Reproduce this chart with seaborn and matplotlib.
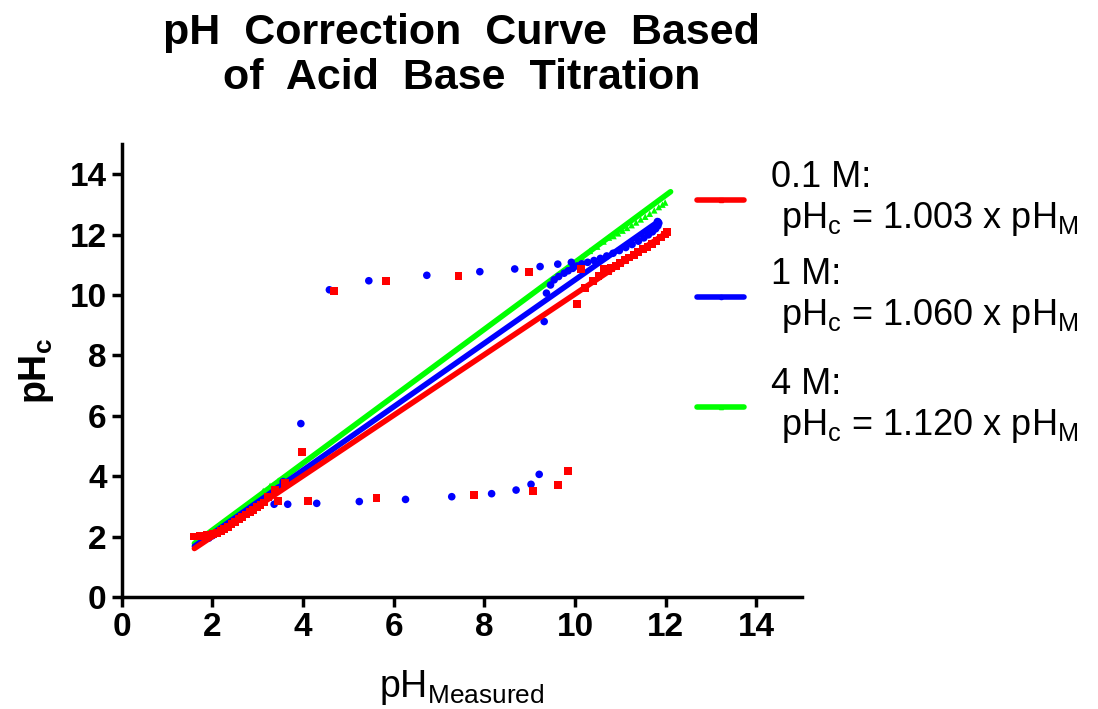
import matplotlib
matplotlib.use("Agg")
import matplotlib.pyplot as plt
import seaborn as sns
import pandas as pd
import numpy as np
from matplotlib.lines import Line2D

sns.set_theme(style="ticks")
plt.rcParams['font.family'] = ['Liberation Sans', 'DejaVu Sans']
plt.rcParams['mathtext.default'] = 'regular'
for k in ['text.color', 'axes.labelcolor', 'xtick.color', 'ytick.color', 'axes.edgecolor']:
    plt.rcParams[k] = 'black'

# ---------------- data ----------------
series_names = ["0.1 M", "1 M", "4 M"]
slopes_label = ["1.003", "1.060", "1.120"]
fit_slopes = [1.003, 1.05, 1.108]
fit_x_range = [(1.60, 12.05), (1.60, 11.85), (1.60, 12.11)]
colors = ["#FF0000", "#0000FF", "#00FF00"]
markers = ["s", "o", "^"]

red_x = [1.58, 1.65, 1.72, 1.80, 1.88, 1.95, 2.02, 2.10, 2.18, 2.26, 2.34, 2.42, 2.50, 2.58,
         2.66, 2.74, 2.82, 2.90, 2.98, 3.06, 3.14, 3.23, 3.38, 3.60,
         3.45, 4.11, 5.62, 7.77, 9.07, 9.62, 9.85, 3.97,
         4.68, 5.82, 7.43, 8.98, 10.13, 10.04,
         10.22, 10.39, 10.52, 10.64, 10.72, 10.80, 10.90, 11.00, 11.10, 11.20, 11.30,
         11.40, 11.50, 11.60, 11.70, 11.80, 11.90, 11.98, 12.04]
red_y = [2.00, 2.00, 2.01, 2.02, 2.04, 2.06, 2.08, 2.13, 2.19, 2.26, 2.33, 2.41, 2.49, 2.57,
         2.65, 2.73, 2.81, 2.89, 2.97, 3.05, 3.13, 3.32, 3.54, 3.78,
         3.18, 3.19, 3.27, 3.39, 3.51, 3.72, 4.18, 4.79,
         10.13, 10.45, 10.63, 10.77, 10.86, 9.70,
         10.22, 10.46, 10.63, 10.86, 10.80, 10.88, 10.97, 11.06, 11.15, 11.24, 11.33,
         11.42, 11.51, 11.60, 11.70, 11.80, 11.90, 12.00, 12.08]

blue_x = [1.92, 2.00, 2.10, 2.20, 2.30, 2.40, 2.50, 2.60, 2.70, 2.80, 2.90, 3.00, 3.10,
          3.20, 3.30, 3.45, 3.56,
          3.36, 3.66, 4.30, 5.24, 6.26, 7.28, 8.16, 8.70, 9.03, 9.21, 3.95,
          4.58, 5.45, 6.73, 7.90, 8.67, 9.23, 9.62, 9.92, 9.32,
          9.37, 9.46, 9.54, 9.64, 9.76, 9.85, 9.95, 10.05, 10.15, 10.28, 10.42, 10.56,
          10.70, 10.84, 10.98, 11.12, 11.26, 11.40, 11.52, 11.62, 11.71, 11.78, 11.83,
          11.85, 11.82]
blue_y = [1.95, 2.03, 2.12, 2.22, 2.32, 2.42, 2.53, 2.63, 2.74, 2.84, 2.95, 3.05, 3.16,
          3.27, 3.40, 3.60, 3.82,
          3.07, 3.07, 3.10, 3.16, 3.23, 3.32, 3.42, 3.54, 3.73, 4.06, 5.74,
          10.17, 10.47, 10.65, 10.77, 10.86, 10.94, 11.02, 11.08, 9.12,
          10.06, 10.33, 10.50, 10.61, 10.72, 10.80, 10.88, 10.96, 11.03, 11.08, 11.14, 11.21,
          11.29, 11.38, 11.47, 11.57, 11.67, 11.78, 11.89, 11.99, 12.09, 12.19, 12.29,
          12.38, 12.43]

green_x = [1.62, 1.70, 1.80, 1.90, 2.00, 2.10, 2.20, 2.30, 2.40, 2.50, 2.60, 2.70, 2.80,
           2.90, 3.00, 3.12, 3.27, 3.45, 3.67,
           10.15, 10.33, 10.49, 10.63, 10.75, 10.85, 10.95, 11.05, 11.15, 11.25, 11.35,
           11.45, 11.55, 11.65, 11.75, 11.85, 11.93, 11.99]
green_y = [1.80, 1.88, 1.98, 2.08, 2.18, 2.29, 2.40, 2.50, 2.61, 2.72, 2.83, 2.94, 3.05,
           3.16, 3.27, 3.51, 3.68, 3.85, 3.98,
           11.25, 11.46, 11.60, 11.77, 11.90, 11.95, 12.04, 12.13, 12.22, 12.31, 12.40,
           12.50, 12.59, 12.69, 12.80, 12.91, 12.99, 13.06]

xs = [red_x, blue_x, green_x]
ys = [red_y, blue_y, green_y]

# ---------------- figure ----------------
fig = plt.figure(figsize=(10.98, 7.09), dpi=100)
ax = fig.add_axes([0.111, 0.158, 0.619, 0.639])

order = [2, 1, 0]
sizes = [32, 30, 22]
for i in order:
    df = pd.DataFrame({"x": xs[i], "y": ys[i]})
    sns.scatterplot(data=df, x="x", y="y", ax=ax, color=colors[i], marker=markers[i],
                    s=sizes[i], edgecolor="none", linewidth=0, zorder=3 + (2 - i))
    x0, x1 = fit_x_range[i]
    fit = pd.DataFrame({"x": [x0, x1], "y": [fit_slopes[i] * x0, fit_slopes[i] * x1]})
    sns.lineplot(data=fit, x="x", y="y", ax=ax, color=colors[i], linewidth=4,
                 zorder=3 + (2 - i), legend=False)

ax.set_xlim(0, 15)
ax.set_ylim(0, 15)
ax.set_xticks(range(0, 15, 2))
ax.set_yticks(range(0, 15, 2))
for lab in ax.get_xticklabels() + ax.get_yticklabels():
    lab.set_fontweight("bold")
ax.tick_params(axis="both", labelsize=24, width=2.5, length=7, direction="out", pad=4)
for sp in ["left", "bottom"]:
    ax.spines[sp].set_linewidth(2.5)
    ax.spines[sp].set_color("black")
ax.spines["top"].set_visible(False)
ax.spines["right"].set_visible(False)

ax.set_xlabel("pH$_{Measured}$", fontsize=27, labelpad=18)
ax.set_ylabel("pH$_c$", fontsize=27, fontweight="bold", labelpad=10)

fig.suptitle("pH  Correction  Curve  Based\nof  Acid  Base  Titration",
             x=0.4205, y=0.982, fontsize=31, fontweight="bold", linespacing=1.18)

labels = [f"{series_names[i]}:\n pH$_c$ = {slopes_label[i]} x pH$_M$" for i in range(3)]
legend_tops = [0.775, 0.638, 0.483]
for i in range(3):
    h = Line2D([0], [0], color=colors[i], lw=4, marker=markers[i], markersize=3)
    fig.legend([h], [labels[i]], loc="upper left", bbox_to_anchor=(0.635, legend_tops[i]),
               frameon=False, fontsize=26, handlelength=1.3, handletextpad=0.75,
               borderpad=0, borderaxespad=0)

fig.savefig("out.png", dpi=100)
